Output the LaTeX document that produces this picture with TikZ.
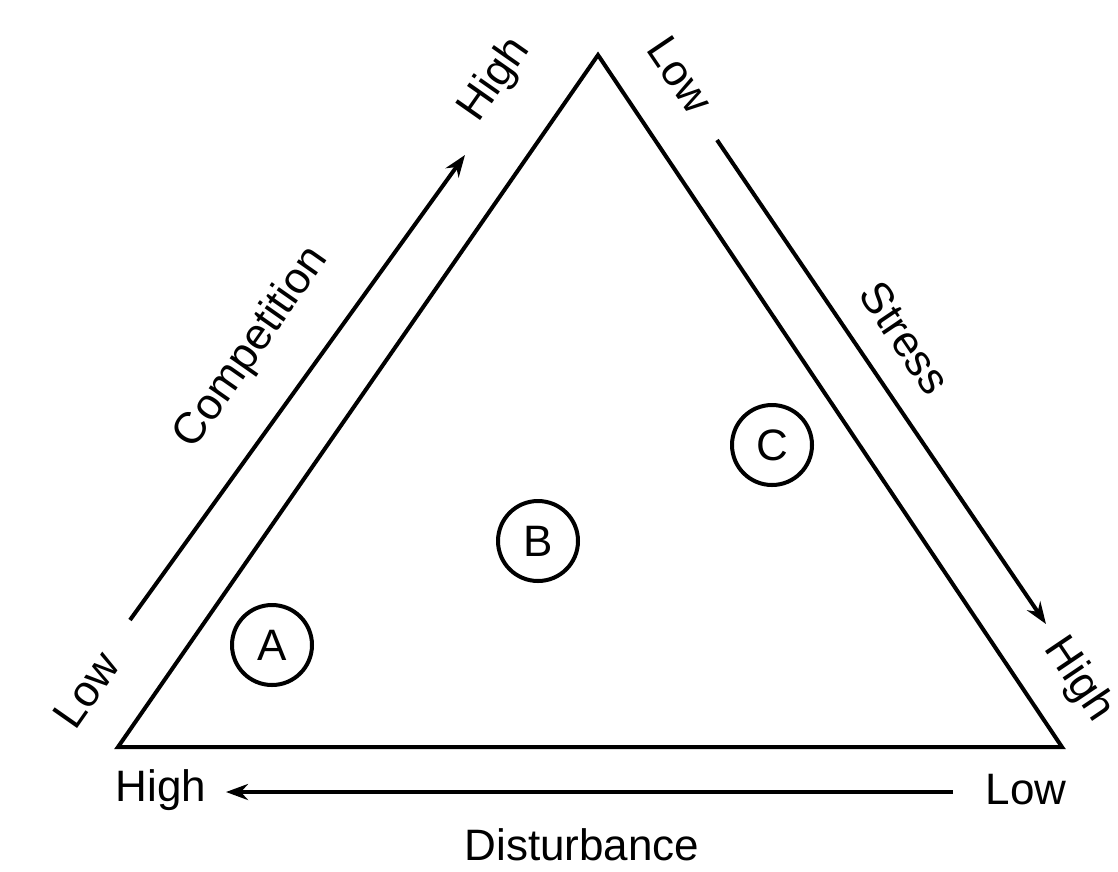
\documentclass[tikz,border=0pt]{standalone}
\usepackage{fontspec}
\setmainfont{Liberation Sans}
\usetikzlibrary{arrows.meta}
\begin{document}
\begin{tikzpicture}[x=1pt,y=-1pt,
  edge/.style={line width=4pt,line join=miter},
  axis/.style={line width=4pt,-{Stealth[length=22pt,width=16pt]}},
  lbl/.style={font=\fontsize{44}{48}\selectfont,inner sep=0pt},
  region/.style={circle,draw,line width=4pt,minimum size=80pt,inner sep=0pt,font=\fontsize{44}{48}\selectfont}]
\useasboundingbox (0,0) rectangle (1118,871);
% triangle vertices
\coordinate (bl) at (118,747);
\coordinate (tp) at (598,55);
\coordinate (br) at (1062,747);
\draw[edge] (bl) -- (tp) -- (br) -- cycle;
% axis ends
\coordinate (c0) at (130,620);
\coordinate (c1) at (465,155);
\coordinate (s0) at (717,140);
\coordinate (s1) at (1046,624);
\coordinate (d0) at (953,792);
\coordinate (d1) at (226,792);
\draw[axis] (c0) -- (c1);
\draw[axis] (s0) -- (s1);
\draw[axis] (d0) -- (d1);
% labels
\node[lbl,rotate=55] (cl) at (86,690) {Low};
\node[lbl,rotate=55] (ch) at (495,80) {High};
\node[lbl,rotate=55] (cn) at (252,348) {Competition};
\node[lbl,rotate=-56] (sl) at (680,75) {Low};
\node[lbl,rotate=-56] (sn) at (905,338) {Stress};
\node[lbl,rotate=-56] (sh) at (1078,680) {High};
\node[lbl] (dh) at (161,790) {High};
\node[lbl] (dl) at (1026,790) {Low};
\node[lbl] (dn) at (582,845) {Disturbance};
% regions
\node[region] (A) at (272,645) {A};
\node[region] (B) at (538,541) {B};
\node[region] (C) at (772,445) {C};
\end{tikzpicture}
\end{document}
